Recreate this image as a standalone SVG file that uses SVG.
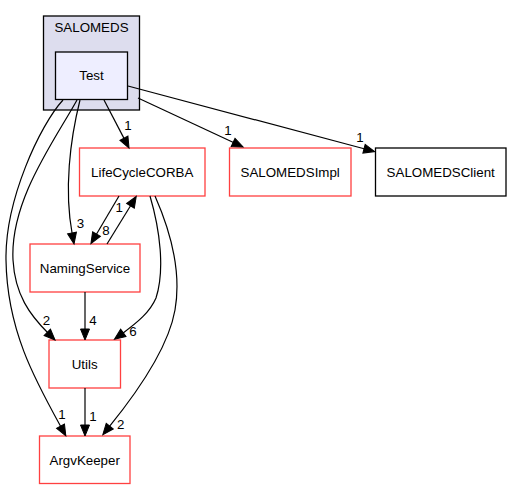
<svg xmlns="http://www.w3.org/2000/svg" width="512" height="489" viewBox="0 0 512 489">
<defs>
<marker id="ah" markerUnits="userSpaceOnUse" markerWidth="13" markerHeight="11" refX="1" refY="4.5" orient="auto" overflow="visible">
<path d="M0,0 L11,4.5 L0,9 z" fill="#000" stroke="#000" stroke-width="1"/>
</marker>
</defs>
<style>
text{font-family:"Liberation Sans",Arial,sans-serif;font-size:13.33px;fill:#000}
.n text,.c text{text-anchor:middle}
.r{fill:#fff;stroke:#ff4040;stroke-width:1.3}
.b{fill:#fff;stroke:#000;stroke-width:1.3}
#edges path{fill:none;stroke:#000;stroke-width:1.2;marker-end:url(#ah)}
.l{text-anchor:middle}
</style>
<rect width="512" height="489" fill="#fff"/>
<g id="cluster_SALOMEDS" class="c">
<rect x="43.5" y="16" width="96" height="94" fill="#ddddee" stroke="#000" stroke-width="1.3"/>
<text x="91.5" y="32">SALOMEDS</text>
</g>
<g id="Test" class="n">
<rect x="55.5" y="52" width="72" height="47.5" fill="#eeeeff" stroke="#000" stroke-width="1.3"/>
<text x="91.5" y="80">Test</text>
</g>
<g id="LifeCycleCORBA" class="n">
<rect class="r" x="79.5" y="148" width="125.5" height="48"/>
<text x="142.2" y="177">LifeCycleCORBA</text>
</g>
<g id="SALOMEDSImpl" class="n">
<rect class="r" x="229.5" y="148" width="121.5" height="48"/>
<text x="290.2" y="177">SALOMEDSImpl</text>
</g>
<g id="SALOMEDSClient" class="n">
<rect class="b" x="375.5" y="148" width="130.5" height="48"/>
<text x="440.7" y="177">SALOMEDSClient</text>
</g>
<g id="NamingService" class="n">
<rect class="r" x="30" y="244" width="110" height="48"/>
<text x="85" y="273">NamingService</text>
</g>
<g id="Utils" class="n">
<rect class="r" x="49" y="340" width="71.5" height="48"/>
<text x="84.7" y="369">Utils</text>
</g>
<g id="ArgvKeeper" class="n">
<rect class="r" x="39.5" y="436" width="90.5" height="47.5"/>
<text x="84.7" y="464.5">ArgvKeeper</text>
</g>
<g id="edges">
<path d="M104,100 L124.4,139.1"/>
<text class="l" x="128" y="130">1</text>
<path d="M138,98 L234,142.8"/>
<text class="l" x="228" y="135">1</text>
<path d="M128,86 L365,149"/>
<text class="l" x="360" y="142">1</text>
<path d="M80,100 C70,140 64,190 72.2,234"/>
<text class="l" x="80.5" y="228">3</text>
<path d="M77,100 C55,140 10,200 13,260 C15,295 30,315 48,333"/>
<text class="l" x="46.5" y="325">2</text>
<path d="M63,100 C40,125 5,200 6,260 C7,330 35,380 61,427"/>
<text class="l" x="62" y="419">1</text>
<path d="M119,196 L96,235"/>
<text class="l" x="106" y="235">8</text>
<path d="M107,244 L131,205"/>
<text class="l" x="119.3" y="212">1</text>
<path d="M150,196 C160,230 165,270 156,298 C150,312 138,322 122.5,333.4"/>
<text class="l" x="133" y="336">6</text>
<path d="M155,196 C170,230 182,270 175,310 C168,350 135,395 109.1,426.9"/>
<text class="l" x="120.7" y="429">2</text>
<path d="M85,292 L85,330"/>
<text class="l" x="93" y="325">4</text>
<path d="M85,388 L85,426"/>
<text class="l" x="93" y="421">1</text>
</g>
</svg>
